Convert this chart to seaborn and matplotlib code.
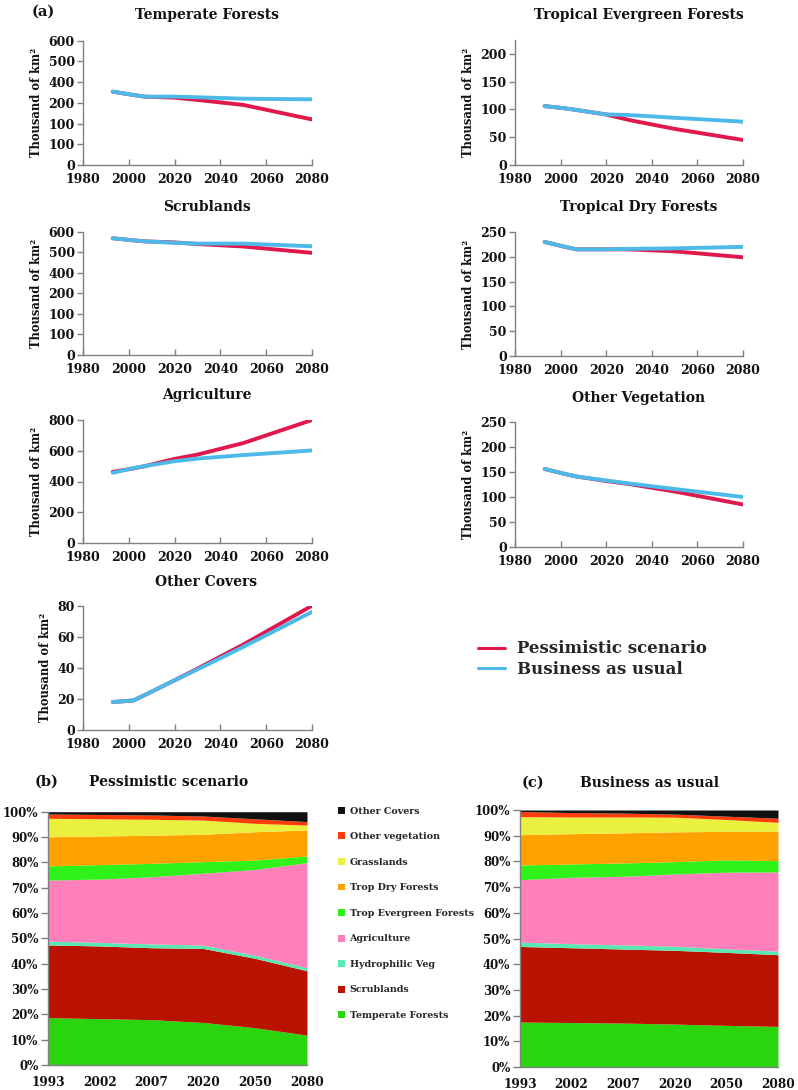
import numpy as np
import pandas as pd
import matplotlib
matplotlib.use("Agg")
import matplotlib.pyplot as plt
import seaborn as sns
from matplotlib.lines import Line2D
from matplotlib.patches import Patch

# ---------------- data: line panels (a) ----------------
years = [1993, 2002, 2007, 2020, 2030, 2050, 2080]

temperate_pess = [354, 338, 330, 325, 314, 290, 220]
temperate_bau = [354, 338, 330, 330, 327, 320, 317]
trop_evergreen_pess = [106, 102, 99, 91, 81, 65, 45]
trop_evergreen_bau = [106, 102, 99, 91, 90, 85, 78]
scrub_pess = [568, 558, 553, 548, 540, 528, 497]
scrub_bau = [568, 558, 553, 546, 542, 542, 529]
trop_dry_pess = [230, 220, 215, 215, 215, 211, 199]
trop_dry_bau = [230, 220, 215, 215, 216, 217, 220]
agri_pess = [463, 485, 500, 547, 575, 650, 800]
agri_bau = [457, 487, 500, 532, 549, 572, 602]
other_veg_pess = [156, 146, 141, 132, 126, 111, 85]
other_veg_bau = [156, 146, 141, 133, 127, 116, 100]
other_cov_pess = [18, 19, 22.5, 32, 39.5, 55, 80]
other_cov_bau = [18, 19, 22.5, 32, 39, 53.5, 76]

x_ticks = [1980, 2000, 2020, 2040, 2060, 2080]
ticks_600 = [0, 100, 200, 300, 400, 500, 600]
labels_600 = ['0', '100', '100', '200', '400', '500', '600']
ticks_te = [0, 50, 100, 150, 200]
ticks_250 = [0, 50, 100, 150, 200, 250]
ticks_800 = [0, 200, 400, 600, 800]
ticks_80 = [0, 20, 40, 60, 80]

scenarios = ['Pessimistic scenario', 'Business as usual']

# ---------------- data: stacked panels (b), (c) ----------------
area_years = ['1993', '2002', '2007', '2020', '2050', '2080']
classes = ['Temperate Forests', 'Scrublands', 'Hydrophilic Veg', 'Agriculture',
           'Trop Evergreen Forests', 'Trop Dry Forests', 'Grasslands',
           'Other vegetation', 'Other Covers']

pess_temperate = [18.7, 18.3, 17.9, 16.8, 14.7, 11.8]
pess_scrub = [28.7, 28.7, 28.4, 29.2, 27.4, 25.4]
pess_hydro = [1.5, 1.4, 1.5, 1.3, 1.2, 1.2]
pess_agri = [24.1, 25.0, 26.5, 28.4, 33.9, 41.5]
pess_trop_ever = [5.6, 5.7, 5.3, 4.6, 3.7, 2.6]
pess_trop_dry = [11.5, 11.3, 11.1, 10.8, 11.2, 10.3]
pess_grass = [7.3, 6.8, 6.3, 5.6, 3.3, 1.9]
pess_other_veg = [1.7, 1.7, 1.7, 1.6, 1.8, 1.4]
pess_other_cov = [0.9, 1.1, 1.3, 1.7, 2.8, 3.9]

bau_temperate = [17.5, 17.3, 17.1, 16.7, 16.2, 15.8]
bau_scrub = [29.4, 29.1, 28.8, 28.7, 28.4, 27.9]
bau_hydro = [1.7, 1.6, 1.6, 1.6, 1.4, 1.4]
bau_agri = [24.3, 25.8, 26.7, 28.1, 29.8, 30.8]
bau_trop_ever = [5.7, 5.2, 5.2, 4.8, 4.8, 4.4]
bau_trop_dry = [11.8, 11.8, 11.7, 11.6, 11.1, 11.4]
bau_grass = [7.0, 6.5, 6.2, 5.7, 4.6, 3.5]
bau_other_veg = [2.0, 1.7, 1.5, 1.2, 1.3, 1.6]
bau_other_cov = [0.6, 1.0, 1.2, 1.6, 2.4, 3.2]

pct_ticks = [0, 10, 20, 30, 40, 50, 60, 70, 80, 90, 100]

# ---------------- style ----------------
RED = '#E0184C'
BLUE = '#4DB9E8'
area_colors = ['#2AD40E', '#B91200', '#58E8B2', '#FF7FBB', '#2EF21A',
               '#FFA200', '#EAF03E', '#FF3D0C', '#111111']
SPINE = '#808080'

sns.set_theme(style='white')
plt.rcParams['font.family'] = ['DejaVu Serif']
plt.rcParams['font.weight'] = 'bold'
plt.rcParams['axes.labelweight'] = 'bold'

W, H = 798, 1090
fig = plt.figure(figsize=(W / 100, H / 100), dpi=100)


def rect(x0, y0, x1, y1):
    return [x0 / W, 1 - y1 / H, (x1 - x0) / W, (y1 - y0) / H]


def style_axes(ax):
    for s in ['top', 'right']:
        ax.spines[s].set_visible(False)
    for s in ['left', 'bottom']:
        ax.spines[s].set_color(SPINE)
        ax.spines[s].set_linewidth(1.0)


def line_panel(r, title, tx, ty, pess, bau, yticks, ytop, ylabels=None):
    ax = fig.add_axes(r)
    df = pd.DataFrame({
        'year': years * 2,
        'value': pess + bau,
        'scenario': [scenarios[0]] * len(years) + [scenarios[1]] * len(years),
    })
    sns.lineplot(data=df, x='year', y='value', hue='scenario', hue_order=scenarios,
                 palette={scenarios[0]: RED, scenarios[1]: BLUE},
                 linewidth=2.8, errorbar=None, legend=False, ax=ax)
    style_axes(ax)
    ax.set_xlim(1980, 2080)
    ax.set_ylim(0, ytop)
    ax.set_xticks(x_ticks)
    ax.set_xticklabels([str(v) for v in x_ticks], fontsize=9, fontweight='bold')
    ax.set_yticks(yticks)
    ax.set_yticklabels(ylabels if ylabels else [str(v) for v in yticks],
                       fontsize=9, fontweight='bold')
    ax.tick_params(axis='x', direction='in', length=4, width=1, color=SPINE, pad=6,
                   labelcolor='#111111', bottom=True)
    ax.tick_params(axis='y', direction='out', length=4, width=1, color=SPINE, pad=2,
                   labelcolor='#111111', left=True)
    ax.set_xlabel('')
    ax.set_ylabel('Thousand of km²', fontsize=8.3, fontweight='bold', color='#111111',
                  labelpad=4)
    fig.text(tx / W, 1 - ty / H, title, ha='center', va='center', fontsize=10,
             fontweight='bold', color='#111111')
    return ax


LX0, LX1 = 83, 312
RX0, RX1 = 515, 743

line_panel(rect(LX0, 40.7, LX1, 165), 'Temperate Forests', 206.5, 15,
           temperate_pess, temperate_bau, ticks_600, 600, labels_600)
line_panel(rect(RX0, 40, RX1, 165), 'Tropical Evergreen Forests', 638.5, 15,
           trop_evergreen_pess, trop_evergreen_bau, ticks_te, 225)
line_panel(rect(LX0, 231.7, LX1, 355), 'Scrublands', 206.5, 207,
           scrub_pess, scrub_bau, ticks_600, 600, labels_600)
line_panel(rect(RX0, 232, RX1, 356), 'Tropical Dry Forests', 638.5, 207,
           trop_dry_pess, trop_dry_bau, ticks_250, 250)
line_panel(rect(LX0, 420, LX1, 543), 'Agriculture', 206.5, 395,
           agri_pess, agri_bau, ticks_800, 800)
line_panel(rect(RX0, 422, RX1, 547), 'Other Vegetation', 638.5, 398,
           other_veg_pess, other_veg_bau, ticks_250, 250)
line_panel(rect(LX0, 605.7, LX1, 730), 'Other Covers', 206.5, 582,
           other_cov_pess, other_cov_bau, ticks_80, 80)

fig.text(32 / W, 1 - 12 / H, '(a)', ha='left', va='center', fontsize=10.5,
         fontweight='bold', color='#111111')

# line legend
line_handles = [Line2D([], [], color=RED, lw=2.2), Line2D([], [], color=BLUE, lw=2.2)]
fig.legend(line_handles, scenarios, loc='upper left',
           bbox_to_anchor=(470 / W, 1 - 632 / H), frameon=False,
           prop={'family': 'DejaVu Serif', 'weight': 'bold', 'size': 12},
           handlelength=1.6, handletextpad=0.7, labelspacing=0.2, borderpad=0)


# ---------------- stacked panels ----------------
def area_panel(r, shares, label, title, lx, tx, ty):
    ax = fig.add_axes(r)
    xs = np.arange(len(area_years))
    ax.stackplot(xs, *shares, colors=area_colors, linewidth=0)
    style_axes(ax)
    ax.set_xlim(0, len(area_years) - 1)
    ax.set_ylim(0, 100)
    ax.set_xticks(xs)
    ax.set_xticklabels(area_years, fontsize=8.7, fontweight='bold')
    ax.set_yticks(pct_ticks)
    ax.set_yticklabels([f'{v}%' for v in pct_ticks], fontsize=8.5, fontweight='bold')
    ax.tick_params(axis='x', bottom=False, pad=2, labelcolor='#111111')
    ax.tick_params(axis='y', left=True, direction='out', length=5, width=1,
                   color=SPINE, pad=2, labelcolor='#111111')
    fig.text(lx / W, 1 - ty / H, label, ha='center', va='center', fontsize=10.5,
             fontweight='bold', color='#111111')
    fig.text(tx / W, 1 - ty / H, title, ha='center', va='center', fontsize=10,
             fontweight='bold', color='#111111')
    return ax


pess_shares = [pess_temperate, pess_scrub, pess_hydro, pess_agri, pess_trop_ever,
               pess_trop_dry, pess_grass, pess_other_veg, pess_other_cov]
bau_shares = [bau_temperate, bau_scrub, bau_hydro, bau_agri, bau_trop_ever,
              bau_trop_dry, bau_grass, bau_other_veg, bau_other_cov]

area_panel(rect(48, 811.7, 307, 1065), pess_shares, '(b)', 'Pessimistic scenario',
           47, 169, 782)
area_panel(rect(520, 810, 778, 1067), bau_shares, '(c)', 'Business as usual',
           533, 650, 783)

area_handles = [Patch(facecolor=c, edgecolor='none') for c in area_colors][::-1]
fig.legend(area_handles, classes[::-1], loc='upper left',
           bbox_to_anchor=(333 / W, 1 - 802 / H), frameon=False,
           prop={'family': 'DejaVu Serif', 'weight': 'bold', 'size': 6.8},
           handlelength=0.75, handleheight=0.75, handletextpad=0.5,
           labelspacing=1.75, borderpad=0)

fig.savefig('out.png', dpi=100)
